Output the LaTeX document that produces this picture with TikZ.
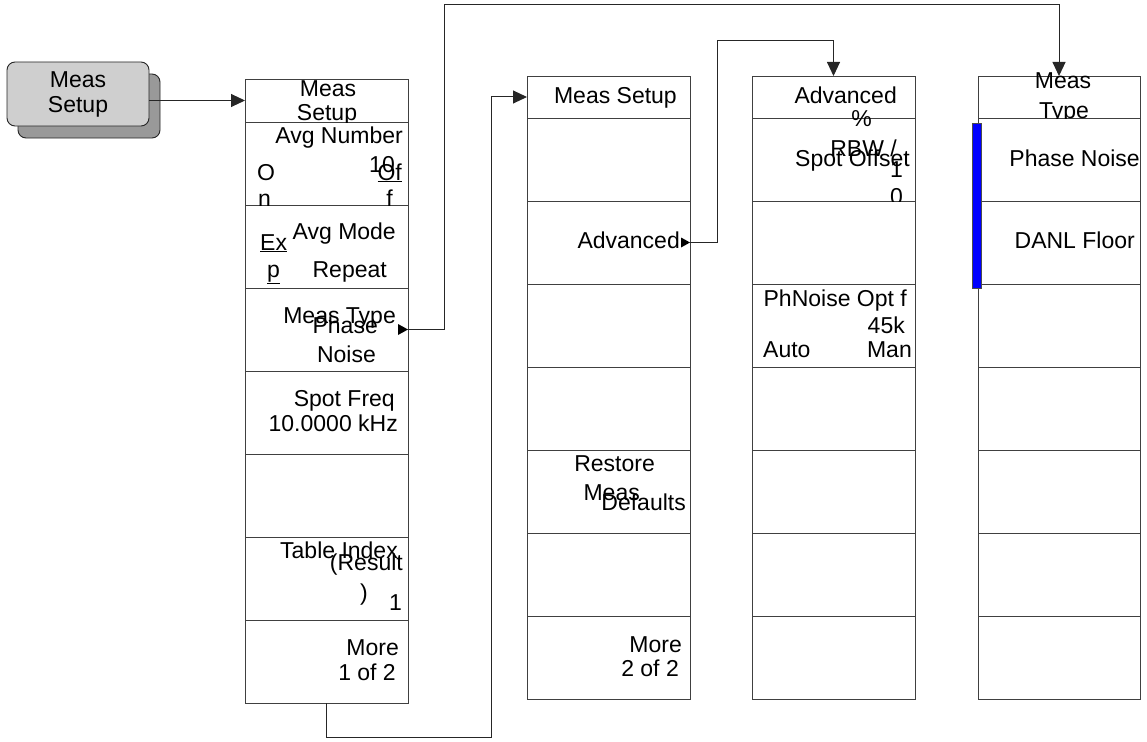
\documentclass[tikz,border=0pt]{standalone}
\usepackage{fontspec}
\setmainfont{Liberation Sans}
\usetikzlibrary{arrows.meta}

\begin{document}
\begin{tikzpicture}[x=1pt, y=-1pt, font=\fontsize{23}{25}\selectfont]

        % Styles
        \tikzset{
            cell/.style={draw=black!75, line width=0.9pt, minimum width=163pt, minimum height=83pt, inner sep=0pt, outer sep=0pt, anchor=north west},
            head/.style={cell, minimum height=42pt},
            lbl/.style={inner sep=0pt, anchor=base east},
            lblw/.style={inner sep=0pt, anchor=base west},
            lblc/.style={inner sep=0pt, anchor=base},
            conn/.style={draw=black!85, line width=1pt},
            arr/.style={conn, -{Triangle[length=14pt, width=13pt]}},
            hardkey/.style={draw=black!85, line width=0.9pt, rounded corners=8pt, minimum width=142pt, minimum height=64pt, inner sep=0pt, align=center}
        }

        \useasboundingbox (0,0) rectangle (1147,741);

        % --- Hard key ---
        \node[hardkey, fill=black!40] (btnshadow) at (89,106) {};
        \node[hardkey, fill=black!19] (btn) at (78,94) {Meas\\Setup};

        % --- Menu columns ---
        \node[head, minimum height=43pt] (a0) at (245,79) {};
        \foreach \i in {1,...,7}
            \node[cell] (a\i) at (245,{122+83*(\i-1)}) {};
        \node[head] (b0) at (527,76) {};
        \node[head] (c0) at (752,76) {};
        \node[head, minimum width=162pt] (d0) at (978,76) {};
        \foreach \i in {1,...,7} {
            \node[cell] (b\i) at (527,{118+83*(\i-1)}) {};
            \node[cell] (c\i) at (752,{118+83*(\i-1)}) {};
            \node[cell, minimum width=162pt] (d\i) at (978,{118+83*(\i-1)}) {};
        }
        \node[draw=black!70, fill=blue, line width=0.8pt, minimum width=9pt, minimum height=165pt, inner sep=0pt, anchor=north west] (bar) at (972,123) {};

        % --- Column 1 texts ---
        \begin{scope}
            \clip (a0.north west) rectangle (a0.south east);
            \node[lblc] (a0t1) at (328,96) {Meas};
            \node[lblc] (a0t2) at (327,121) {Setup};
        \end{scope}
        \begin{scope}
            \clip (a1.north west) rectangle (a1.south east);
            \node[lbl] (a1t1) at (403,143) {Avg Number};
            \node[lblw] (a1t2) at (257,180) {O};
            \node[lblw] (a1t3) at (258,206) {n};
            \node[lbl] (a1t4) at (395,172) {10};
            \node[lbl] (a1t5) at (402,180) {\underline{Of}};
            \node[lbl] (a1t6) at (393,206) {f};
        \end{scope}
        \begin{scope}
            \clip (a2.north west) rectangle (a2.south east);
            \node[lbl] (a2t1) at (396,239) {Avg Mode};
            \node[lblw] (a2t2) at (260,250) {\underline{Ex}};
            \node[lblw] (a2t3) at (267,277) {\underline{p}};
            \node[lbl] (a2t4) at (387,277) {Repeat};
        \end{scope}
        \node[lbl] (a3t1) at (396,323) {Meas Type};
        \node[lbl] (a3t2) at (378,333) {Phase};
        \node[lbl] (a3t3) at (376,362) {Noise};
        \node[lbl] (a4t1) at (395,406) {Spot Freq};
        \node[lbl] (a4t2) at (398,431) {10.0000 kHz};
        \node[lbl] (a6t1) at (398,558) {Table Index};
        \node[lbl] (a6t2) at (403,570) {(Result};
        \node[lblw] (a6t3) at (360,600) {)};
        \node[lbl] (a6t4) at (402,610) {1};
        \node[lbl] (a7t1) at (399,655) {More};
        \node[lbl] (a7t2) at (396,680) {1 of 2};

        % --- Column 2 texts ---
        \node[lbl] (b0t1) at (677,104) {Meas Setup};
        \node[lbl] (b2t1) at (680,248) {Advanced};
        \node[lbl] (b5t1) at (655,471) {Restore};
        \node[lbl] (b5t2) at (640,500) {Meas};
        \node[lbl] (b5t3) at (686,510) {Defaults};
        \node[lbl] (b7t1) at (682,652) {More};
        \node[lbl] (b7t2) at (679,676) {2 of 2};

        % --- Column 3 texts ---
        \node[lbl] (c0t1) at (897,103) {Advanced};
        \node[lbl] (c1t1) at (872,126) {\%};
        \begin{scope}
            \clip (c1.north west) rectangle (c1.south east);
            \node[lbl] (c1t2) at (897,156) {RBW /};
            \node[lbl] (c1t3) at (910,166) {Spot Offset};
            \node[lbl] (c1t4) at (903,177) {1};
            \node[lbl] (c1t5) at (903,204) {0};
        \end{scope}
        \node[lbl] (c3t1) at (907,306) {PhNoise Opt f};
        \node[lbl] (c3t2) at (905,333) {45k};
        \node[lblw] (c3t3) at (763,357) {Auto};
        \node[lbl] (c3t4) at (912,357) {Man};

        % --- Column 4 texts ---
        \node[lblc] (d0t1) at (1063,89) {Meas};
        \begin{scope}
            \clip (d0.north west) rectangle (d0.south east);
            \node[lblc] (d0t2) at (1064,118) {Type};
        \end{scope}
        \node[lbl] (d1t1) at (1140,166) {Phase Noise};
        \node[lbl] (d2t1) at (1135,248) {DANL Floor};

        % --- Connectors ---
        \coordinate (mtup) at (444,5);
        \coordinate (advup) at (717,41);
        \coordinate (moredn) at (491,737);
        \draw[arr] (btn.east |- a0.west) -- (a0.west);
        \fill[black] (a3.east) -- ++(-10,-5.5) -- ++(0,11) -- cycle;
        \draw[arr] (a3.east) -| (mtup) -| (d0.north);
        \fill[black] (b2.east) -- ++(-9,-5) -- ++(0,10) -- cycle;
        \draw[arr] (b2.east) -| (advup) -| (c0.north);
        \draw[arr] (a7.south) |- (moredn) |- (b0.west);

\end{tikzpicture}
\end{document}
